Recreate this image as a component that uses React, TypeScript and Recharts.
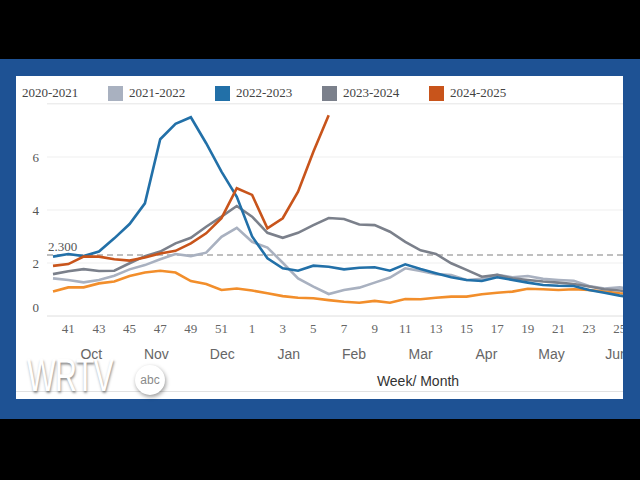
import { CartesianGrid, Line, LineChart, ReferenceLine, XAxis, YAxis } from "recharts";

// flu season weeks, Oct (wk 40) through June (wk 26)
const weeks = [
  40, 41, 42, 43, 44, 45, 46, 47, 48, 49, 50, 51, 52, 1, 2, 3, 4, 5, 6, 7, 8, 9, 10, 11, 12, 13,
  14, 15, 16, 17, 18, 19, 20, 21, 22, 23, 24, 25, 26,
];

const seasons = ["2020-2021", "2021-2022", "2022-2023", "2023-2024", "2024-2025"];

const season2020 = [
  0.92, 1.08, 1.08, 1.23, 1.3, 1.51, 1.64, 1.71, 1.64, 1.32, 1.21, 0.98, 1.04, 0.96, 0.86, 0.75,
  0.69, 0.67, 0.6, 0.54, 0.5, 0.57, 0.5, 0.64, 0.63, 0.69, 0.73, 0.73, 0.82, 0.88, 0.92, 1.03,
  1.01, 0.98, 1.01, 0.98, 0.92, 0.86, 0.82,
];
const season2021 = [
  1.42, 1.36, 1.27, 1.36, 1.52, 1.76, 1.92, 2.14, 2.34, 2.26, 2.39, 2.99, 3.33, 2.8, 2.58, 2.01,
  1.42, 1.11, 0.83, 0.98, 1.07, 1.26, 1.45, 1.8, 1.7, 1.58, 1.55, 1.36, 1.4, 1.55, 1.46, 1.51,
  1.4, 1.36, 1.33, 1.13, 1.04, 1.08, 1.0,
];
const season2022 = [
  2.24, 2.34, 2.26, 2.43, 2.93, 3.47, 4.25, 6.67, 7.25, 7.5, 6.52, 5.45, 4.5, 3.0, 2.18, 1.8,
  1.71, 1.9, 1.86, 1.76, 1.82, 1.84, 1.71, 1.95, 1.77, 1.61, 1.46, 1.36, 1.32, 1.46, 1.36, 1.26,
  1.17, 1.14, 1.13, 0.98, 0.88, 0.77, 0.68,
];
const season2023 = [
  1.58, 1.69, 1.77, 1.7, 1.71, 1.99, 2.26, 2.43, 2.74, 2.95, 3.37, 3.75, 4.15, 3.75, 3.14, 2.95,
  3.14, 3.43, 3.7, 3.66, 3.45, 3.43, 3.18, 2.8, 2.48, 2.34, 1.99, 1.74, 1.48, 1.55, 1.42, 1.36,
  1.3, 1.26, 1.21, 1.11, 1.01, 0.96, 0.9,
];
const season2024 = [
  1.89, 1.96, 2.24, 2.24, 2.14, 2.09, 2.21, 2.36, 2.46, 2.74, 3.12, 3.69, 4.82, 4.57, 3.31, 3.69,
  4.69, 6.2, 7.58,
];

const months = ["Oct", "Nov", "Dec", "Jan", "Feb", "Mar", "Apr", "May", "Jun"];
// where each month label sits, measured in week positions
const monthCenters = [2.5, 6.75, 11.05, 15.4, 19.65, 24, 28.3, 32.55, 36.8];

const yTicks = [0, 2, 4, 6];
const threshold = 2.3;

const seriesValues = [season2020, season2021, season2022, season2023, season2024];
const colors = ["#f28e2b", "#a9b1c0", "#2270a8", "#7b808b", "#c8541b"];
const drawOrder = [0, 1, 3, 2, 4];

const data = weeks.map((week, i) => {
  const row: Record<string, number | null> = { idx: i, week };
  seriesValues.forEach((vals, s) => {
    row[`s${s}`] = vals[i] ?? null;
  });
  return row;
});

const weekTicks = weeks.map((w, i) => (w % 2 === 1 ? i : -1)).filter((i) => i >= 0);

const SERIF = "'Liberation Serif', 'Times New Roman', serif";
const SANS = "'Liberation Sans', Arial, sans-serif";

function YTick(props: any) {
  const { x, y, payload } = props;
  const shift = payload.value === 0 ? -9 : 0;
  return (
    <text x={x} y={y + shift} dy={4.5} textAnchor="end" fontFamily={SERIF} fontSize={13} fill="#555">
      {payload.value}
    </text>
  );
}

function SeasonLegend() {
  return (
    <div
      style={{
        position: "absolute",
        left: -15,
        top: 9,
        display: "flex",
        fontFamily: SERIF,
        fontSize: 13,
        color: "#444",
        whiteSpace: "nowrap",
      }}
    >
      {seasons.map((name, i) => (
        <div key={name} style={{ display: "flex", alignItems: "center", width: 107 }}>
          <span style={{ width: 15, height: 15, background: colors[i], marginRight: 6 }} />
          <span>{name}</span>
        </div>
      ))}
    </div>
  );
}

export default function App() {
  return (
    <div
      style={{
        position: "absolute",
        left: 0,
        top: 0,
        width: 640,
        height: 480,
        background: "#000",
        overflow: "hidden",
      }}
    >
      <div style={{ position: "absolute", left: 0, top: 59, width: 640, height: 360, background: "#1e5294" }} />
      <div
        style={{
          position: "absolute",
          left: 16,
          top: 76,
          width: 607,
          height: 323,
          background: "#fff",
          overflow: "hidden",
        }}
      >
        <SeasonLegend />
        <div style={{ position: "absolute", left: 31, top: 27, width: 600, height: 1, background: "#ececec" }} />
        <LineChart width={625} height={323} data={data} margin={{ top: 28, right: 0, bottom: 8, left: 0 }}>
          <CartesianGrid vertical={false} stroke="#efefef" />
          <XAxis
            dataKey="idx"
            type="number"
            domain={[0, weeks.length - 1]}
            ticks={weekTicks}
            interval={0}
            padding={{ left: 6, right: 6 }}
            height={25}
            tickFormatter={(i: number) => String(weeks[i])}
            tick={{ fontFamily: SERIF, fontSize: 13, fill: "#666" }}
            tickLine={false}
            axisLine={{ stroke: "#e6e6e6" }}
          />
          <XAxis
            xAxisId="month"
            dataKey="idx"
            type="number"
            domain={[0, weeks.length - 1]}
            ticks={monthCenters}
            interval={0}
            padding={{ left: 6, right: 6 }}
            height={50}
            tickFormatter={(v: number) => months[monthCenters.indexOf(v)]}
            tick={{ fontFamily: SANS, fontSize: 14, fill: "#666" }}
            tickLine={false}
            axisLine={false}
            label={(props: any) => {
              const vb = props.viewBox;
              return (
                <text
                  x={vb.x + vb.width / 2 + 74}
                  y={vb.y + vb.height - 5}
                  textAnchor="middle"
                  fontFamily={SANS}
                  fontSize={14}
                  fill="#333"
                >
                  Week/ Month
                </text>
              );
            }}
          />
          <YAxis
            width={31}
            domain={[0, 8]}
            ticks={yTicks}
            tick={<YTick />}
            tickLine={false}
            axisLine={false}
          />
          <ReferenceLine
            y={threshold}
            stroke="#aaa"
            strokeWidth={1.5}
            strokeDasharray="6 4"
            label={(props: any) => {
              const vb = props.viewBox;
              return (
                <text x={vb.x + 1} y={vb.y - 4} fontFamily={SERIF} fontSize={13} fill="#555">
                  {threshold.toFixed(3)}
                </text>
              );
            }}
          />
          {drawOrder.map((s) => (
            <Line
              key={seasons[s]}
              type="linear"
              dataKey={`s${s}`}
              name={seasons[s]}
              stroke={colors[s]}
              strokeWidth={2.6}
              dot={false}
              isAnimationActive={false}
            />
          ))}
        </LineChart>
        <div style={{ position: "absolute", left: 0, top: 315, width: 607, height: 1, background: "#e2e2e2" }} />
      </div>
      <div
        style={{
          position: "absolute",
          left: 27,
          top: 352,
          fontFamily: SANS,
          fontSize: 46,
          lineHeight: "46px",
          color: "#fff",
          textShadow: "1px 2px 3px rgba(0,0,0,0.45)",
          transform: "scaleX(0.66)",
          transformOrigin: "left top",
          letterSpacing: -1,
        }}
      >
        WRTV
      </div>
      <div
        style={{
          position: "absolute",
          left: 135,
          top: 365,
          width: 30,
          height: 30,
          borderRadius: "50%",
          background: "#fff",
          boxShadow: "1px 2px 4px rgba(0,0,0,0.4)",
          display: "flex",
          alignItems: "center",
          justifyContent: "center",
          fontFamily: SANS,
          fontSize: 12,
          color: "#8a8a8a",
        }}
      >
        abc
      </div>
    </div>
  );
}
